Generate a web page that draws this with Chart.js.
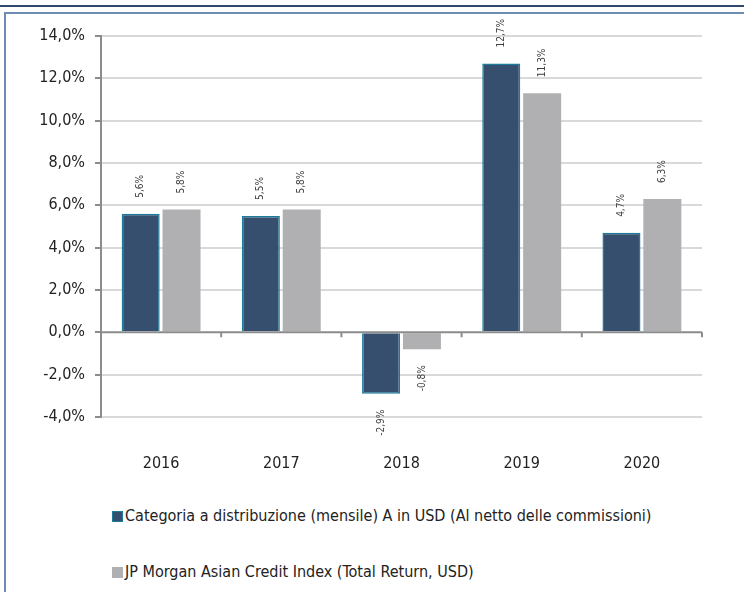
<!DOCTYPE html>
<html>
<head>
<meta charset="utf-8">
<script src="https://cdn.jsdelivr.net/npm/chart.js@4"></script>
<style>
  html, body { margin: 0; padding: 0; background: #fff; }
  body { width: 744px; height: 592px; position: relative; overflow: hidden;
         font-family: "Liberation Sans Narrow", "DejaVu Sans Condensed", sans-serif; }
  #topline { position: absolute; left: 0; top: 5px; width: 744px; height: 2px; background: #2f4a6c; }
  #frame { position: absolute; left: 4px; top: 12px; width: 800px; height: 700px;
           border-left: 2px solid #6d8db5; border-top: 2px solid #6d8db5; }
  #wrap { position: absolute; left: 0; top: 0; width: 744px; height: 480px; }
  .leg { position: absolute; left: 112px; font-size: 16px; color: #222; white-space: nowrap; }
  .leg span { display: inline-block; width: 11px; height: 11px; margin-right: 2px; vertical-align: -1px; }
</style>
</head>
<body>
<div id="topline"></div>
<div id="frame"></div>
<div id="wrap"><canvas id="chart" width="744" height="480"></canvas></div>
<div id="legend"></div>
<script>
const years = ['2016', '2017', '2018', '2019', '2020'];
const fundName = 'Categoria a distribuzione (mensile) A in USD (Al netto delle commissioni)';
const indexName = 'JP Morgan Asian Credit Index (Total Return, USD)';
const fundValues = [5.6, 5.5, -2.9, 12.7, 4.7];
const indexValues = [5.8, 5.8, -0.8, 11.3, 6.3];
const yTicks = [-4, -2, 0, 2, 4, 6, 8, 10, 12, 14];

const FONT = '"Liberation Sans Narrow", "DejaVu Sans Condensed", sans-serif';
const fmt = v => v.toFixed(1).replace('.', ',') + '%';

// rotated value labels on the bars
const barLabels = {
  id: 'barLabels',
  afterDatasetsDraw(chart) {
    const ctx = chart.ctx;
    ctx.save();
    ctx.font = '10px ' + FONT;
    ctx.fillStyle = '#404040';
    ctx.textBaseline = 'middle';
    chart.data.datasets.forEach((ds, i) => {
      chart.getDatasetMeta(i).data.forEach((bar, j) => {
        const v = ds.data[j];
        ctx.save();
        if (v >= 0) {
          ctx.translate(bar.x, bar.y - 16);
          ctx.rotate(-Math.PI / 2);
          ctx.textAlign = 'left';
        } else {
          ctx.translate(bar.x, bar.y + 16);
          ctx.rotate(-Math.PI / 2);
          ctx.textAlign = 'right';
        }
        ctx.fillText(fmt(v), 0, 0);
        ctx.restore();
      });
    });
    ctx.restore();
  }
};

// zero line with category tick marks
const zeroAxis = {
  id: 'zeroAxis',
  afterDatasetsDraw(chart) {
    const ctx = chart.ctx;
    const x = chart.scales.x, y = chart.scales.y;
    const y0 = y.getPixelForValue(0);
    ctx.save();
    ctx.strokeStyle = '#8c8c8c';
    ctx.lineWidth = 2;
    ctx.beginPath();
    ctx.moveTo(x.left, y0);
    ctx.lineTo(x.right, y0);
    const step = (x.right - x.left) / years.length;
    for (let i = 1; i <= years.length; i++) {
      const px = x.left + step * i;
      ctx.moveTo(px, y0);
      ctx.lineTo(px, y0 + 5);
    }
    ctx.stroke();
    ctx.restore();
  }
};

new Chart(document.getElementById('chart'), {
  type: 'bar',
  data: {
    labels: years,
    datasets: [{
      label: fundName,
      data: fundValues,
      backgroundColor: '#364f6e',
      borderColor: '#1b7c9c',
      borderWidth: 1.5,
      categoryPercentage: 0.68,
      barPercentage: 0.93
    }, {
      label: indexName,
      data: indexValues,
      backgroundColor: '#b0b0b2',
      borderWidth: 0,
      categoryPercentage: 0.68,
      barPercentage: 0.93
    }]
  },
  options: {
    responsive: false,
    animation: false,
    layout: { padding: { left: 0, top: 36, right: 42, bottom: 0 } },
    plugins: { legend: { display: false }, tooltip: { enabled: false } },
    scales: {
      x: {
        grid: { display: false, drawTicks: false },
        border: { display: false },
        ticks: { padding: 37, autoSkip: false, maxRotation: 0, color: '#222', font: { family: FONT, size: 16 } },
        afterFit(s) { s.height = 63; }
      },
      y: {
        min: -4, max: 14,
        afterBuildTicks(s) { s.ticks = yTicks.map(v => ({ value: v })); },
        grid: {
          color: ctx => ctx.tick && ctx.tick.value === 0 ? 'rgba(0,0,0,0)' : '#d9d9d9',
          lineWidth: 2,
          tickColor: '#8c8c8c',
          tickLength: 6
        },
        border: { display: true, color: '#8c8c8c', width: 2 },
        ticks: { padding: 10, autoSkip: false, color: '#222', font: { family: FONT, size: 16 }, callback: v => fmt(v) },
        afterFit(s) { s.width = 101; }
      }
    }
  },
  plugins: [barLabels, zeroAxis]
});

// legend rows
const legend = document.getElementById('legend');
[[fundName, '#364f6e', '#1b7c9c', 506], [indexName, '#b0b0b2', '#b0b0b2', 562]].forEach(([name, fill, line, top]) => {
  const d = document.createElement('div');
  d.className = 'leg';
  d.style.top = top + 'px';
  const s = document.createElement('span');
  s.style.background = fill;
  s.style.border = '1px solid ' + line;
  s.style.boxSizing = 'border-box';
  d.appendChild(s);
  d.appendChild(document.createTextNode(name));
  legend.appendChild(d);
});
</script>
</body>
</html>
